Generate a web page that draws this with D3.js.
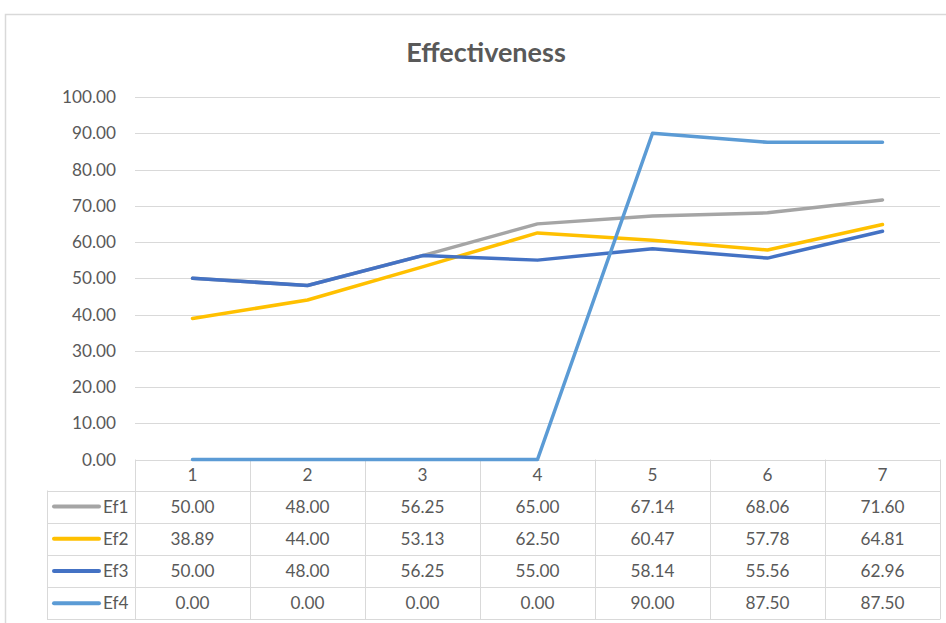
<!DOCTYPE html>
<html>
<head>
<meta charset="utf-8">
<script src="https://cdn.jsdelivr.net/npm/d3@7"></script>
<style>
  html, body { margin: 0; padding: 0; background: #fff; }
  svg { display: block; }
  text { font-family: Lato, "Open Sans", sans-serif; fill: #595959; }
</style>
</head>
<body>
<svg id="chart" width="946" height="623"></svg>
<script>
// Chart data
const categories = ["1", "2", "3", "4", "5", "6", "7"];
const seriesNames = ["Ef1", "Ef2", "Ef3", "Ef4"];
const ef1 = [50.00, 48.00, 56.25, 65.00, 67.14, 68.06, 71.60];
const ef2 = [38.89, 44.00, 53.13, 62.50, 60.47, 57.78, 64.81];
const ef3 = [50.00, 48.00, 56.25, 55.00, 58.14, 55.56, 62.96];
const ef4 = [0.00, 0.00, 0.00, 0.00, 90.00, 87.50, 87.50];
const yTicks = [0, 10, 20, 30, 40, 50, 60, 70, 80, 90, 100];
const colors = ["#A5A5A5", "#FFC000", "#4472C4", "#5B9BD5"];

const series = [ef1, ef2, ef3, ef4].map((values, i) => ({
  name: seriesNames[i], values, color: colors[i]
}));

const svg = d3.select("#chart");
const W = 946, H = 623;
const plot = { left: 135, right: 940, top: 97, bottom: 459.5 };
const rowH = 32.2;
const legendLeft = 47;
const gridColor = "#D9D9D9";
const fs = 17.2;

// Outer chart frame
svg.append("rect")
  .attr("x", 5.5).attr("y", 14.5)
  .attr("width", W + 10).attr("height", H + 10)
  .attr("fill", "#fff").attr("stroke", gridColor).attr("stroke-width", 1.5);

// Title
svg.append("text")
  .attr("x", 486).attr("y", 62)
  .attr("text-anchor", "middle")
  .attr("font-size", 27).attr("font-weight", 700)
  .text("Effectiveness");

const x = d3.scaleBand().domain(categories).range([plot.left, plot.right]);
const y = d3.scaleLinear().domain([0, 100]).range([plot.bottom, plot.top]);

// Horizontal gridlines
svg.append("g").selectAll("line").data(yTicks).join("line")
  .attr("x1", plot.left).attr("x2", plot.right)
  .attr("y1", d => Math.round(y(d)) + 0.5).attr("y2", d => Math.round(y(d)) + 0.5)
  .attr("stroke", gridColor).attr("stroke-width", 1);

// Y axis labels
const yAxis = d3.axisLeft(y).tickValues(yTicks).tickFormat(d3.format(".2f")).tickSize(0).tickPadding(0);
const yg = svg.append("g").attr("transform", `translate(116,0)`).call(yAxis);
yg.select(".domain").remove();
yg.selectAll("text").attr("font-size", fs).attr("fill", "#595959")
  .style("font-family", "Lato, 'Open Sans', sans-serif");

// Data table below the plot
const tableTop = plot.bottom;
const headerH = 31;
const tableBottom = tableTop + headerH + rowH * series.length;
const tg = svg.append("g");

// Vertical column separators
const colEdges = categories.map(c => x(c)).concat([plot.right]);
tg.selectAll("line.col").data(colEdges).join("line")
  .attr("class", "col")
  .attr("x1", d => Math.round(d) + 0.5).attr("x2", d => Math.round(d) + 0.5)
  .attr("y1", tableTop).attr("y2", tableBottom)
  .attr("stroke", gridColor);
// Legend column left edge
tg.append("line")
  .attr("x1", legendLeft + 0.5).attr("x2", legendLeft + 0.5)
  .attr("y1", tableTop + headerH).attr("y2", tableBottom)
  .attr("stroke", gridColor);
// Row separators
const rowEdges = d3.range(series.length + 1).map(i => tableTop + headerH + i * rowH);
tg.selectAll("line.row").data(rowEdges).join("line")
  .attr("class", "row")
  .attr("x1", legendLeft).attr("x2", plot.right)
  .attr("y1", d => Math.round(d) + 0.5).attr("y2", d => Math.round(d) + 0.5)
  .attr("stroke", gridColor);

// Header labels
tg.selectAll("text.cat").data(categories).join("text")
  .attr("class", "cat")
  .attr("x", d => x(d) + x.bandwidth() / 2)
  .attr("y", tableTop + headerH / 2 + 6)
  .attr("text-anchor", "middle").attr("font-size", fs)
  .text(d => d);

// Rows: legend key + values
series.forEach((s, i) => {
  const cy = tableTop + headerH + i * rowH + rowH / 2;
  tg.append("line")
    .attr("x1", 54).attr("x2", 99).attr("y1", cy).attr("y2", cy)
    .attr("stroke", s.color).attr("stroke-width", 4).attr("stroke-linecap", "round");
  tg.append("text")
    .attr("x", 103).attr("y", cy + 6).attr("font-size", fs)
    .text(s.name);
  tg.selectAll(null).data(s.values).join("text")
    .attr("x", (d, j) => x(categories[j]) + x.bandwidth() / 2)
    .attr("y", cy + 6)
    .attr("text-anchor", "middle").attr("font-size", fs)
    .text(d => d3.format(".2f")(d));
});

// Series lines
const line = d3.line()
  .x((d, j) => x(categories[j]) + x.bandwidth() / 2)
  .y(d => y(d));
svg.append("g").selectAll("path").data(series).join("path")
  .attr("d", d => line(d.values))
  .attr("fill", "none")
  .attr("stroke", d => d.color)
  .attr("stroke-width", 3.5)
  .attr("stroke-linejoin", "round")
  .attr("stroke-linecap", "round");
</script>
</body>
</html>
